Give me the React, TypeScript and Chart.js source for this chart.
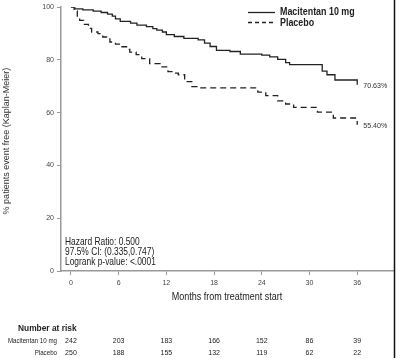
import React, { useEffect, useRef } from 'react';
import Chart from 'chart.js/auto';

const macitentanMonths = [0, 0.5, 1.5, 2.8, 3.8, 4.6, 5.2, 5.6, 6.2, 7.5, 8.3, 9.5, 10.3, 10.8, 11.5, 12.0, 13.0, 14.2, 16.0, 16.8, 17.5, 18.3, 20.0, 21.3, 24.0, 25.0, 26.0, 27.0, 27.5, 31.6, 32.2, 33.2, 36.0];
const macitentanSurvival = [100, 99.4, 99.0, 98.5, 98.0, 97.4, 96.6, 95.6, 94.6, 94.0, 93.2, 92.6, 91.9, 91.3, 90.6, 89.6, 88.9, 88.2, 87.6, 86.4, 85.1, 83.6, 83.2, 82.2, 81.8, 81.2, 80.2, 79.0, 78.2, 75.8, 74.4, 72.4, 70.63];
const placeboMonths = [0, 0.4, 0.8, 1.1, 1.6, 2.2, 2.6, 3.4, 4.0, 4.9, 5.6, 6.2, 7.0, 7.4, 8.2, 8.9, 9.9, 11.2, 12.2, 13.0, 13.5, 14.3, 15.2, 16.2, 23.5, 24.5, 26.0, 27.0, 28.0, 31.0, 33.0, 36.0];
const placeboSurvival = [100, 98.6, 96.6, 95.0, 93.5, 92.0, 90.6, 90.0, 88.7, 86.8, 86.0, 85.0, 84.0, 83.0, 82.0, 80.5, 78.6, 77.4, 75.6, 75.0, 74.4, 71.8, 69.9, 69.4, 67.8, 66.5, 64.5, 63.3, 62.0, 60.2, 58.0, 55.4];
const xTicks = [0, 6, 12, 18, 24, 30, 36];
const seriesNames = ['Macitentan 10 mg', 'Placebo'];
const finalLabels = ['70.63%', '55.40%'];
const statsLines = ['Hazard Ratio: 0.500', '97.5% CI: (0.335,0.747)', 'Logrank p-value: <.0001'];
const riskMacitentan = [242, 203, 183, 166, 152, 86, 39];
const riskPlacebo = [250, 188, 155, 132, 119, 62, 22];

const FONT = '"Liberation Sans", Arial, sans-serif';

function squishText(ctx: any, text: string, x: number, y: number, sx: number) {
  ctx.save();
  ctx.translate(x, y);
  ctx.scale(sx, 1);
  ctx.fillText(text, 0, 0);
  ctx.restore();
}

export default function App() {
  const ref = useRef<HTMLCanvasElement | null>(null);
  useEffect(() => {
    const canvas = ref.current;
    if (!canvas) return;
    const overlay = {
      id: 'overlay',
      afterDraw(chart: any) {
        const ctx = chart.ctx;
        const xs = chart.scales.x;
        const ys = chart.scales.y;
        const area = chart.chartArea;
        ctx.save();
        // legend
        ctx.strokeStyle = '#222';
        ctx.lineWidth = 1.3;
        ctx.beginPath();
        ctx.moveTo(248, 12.5); ctx.lineTo(275, 12.5);
        ctx.stroke();
        ctx.setLineDash([4, 3]);
        ctx.beginPath();
        ctx.moveTo(248, 22.5); ctx.lineTo(275, 22.5);
        ctx.stroke();
        ctx.setLineDash([]);
        ctx.fillStyle = '#222';
        ctx.font = 'bold 10px ' + FONT;
        ctx.textAlign = 'left';
        ctx.textBaseline = 'middle';
        squishText(ctx, seriesNames[0], 280, 12, 0.89);
        squishText(ctx, seriesNames[1], 280, 23, 0.89);
        // final labels
        ctx.font = '7.5px ' + FONT;
        ctx.fillStyle = '#333';
        const lastM = macitentanSurvival[macitentanSurvival.length - 1];
        const lastP = placeboSurvival[placeboSurvival.length - 1];
        squishText(ctx, finalLabels[0], xs.getPixelForValue(36) + 6, ys.getPixelForValue(lastM) + 1, 0.95);
        squishText(ctx, finalLabels[1], xs.getPixelForValue(36) + 6, ys.getPixelForValue(lastP) + 1, 0.95);
        // stats
        ctx.font = '10.5px ' + FONT;
        ctx.fillStyle = '#222';
        statsLines.forEach((s, i) => squishText(ctx, s, 65, 242.5 + i * 9.6, 0.8));
        // x title
        ctx.font = '10px ' + FONT;
        ctx.textAlign = 'center';
        squishText(ctx, 'Months from treatment start', (area.left + area.right) / 2, 297, 0.9);
        // y title
        ctx.save();
        ctx.translate(7, (area.top + area.bottom) / 2 + 2);
        ctx.rotate(-Math.PI / 2);
        ctx.font = '9px ' + FONT;
        ctx.fillStyle = '#333';
        ctx.fillText('% patients event free (Kaplan-Meier)', 0, 0);
        ctx.restore();
        // number at risk
        ctx.textAlign = 'left';
        ctx.font = 'bold 9.5px ' + FONT;
        ctx.fillStyle = '#222';
        squishText(ctx, 'Number at risk', 18, 328, 0.88);
        ctx.font = '6.5px ' + FONT;
        ctx.textAlign = 'right';
        squishText(ctx, seriesNames[0], 57, 341, 0.95);
        squishText(ctx, seriesNames[1], 57, 353, 0.95);
        ctx.font = '7px ' + FONT;
        ctx.textAlign = 'center';
        xTicks.forEach((t, i) => {
          const px = xs.getPixelForValue(t);
          ctx.fillText(String(riskMacitentan[i]), px, 341);
          ctx.fillText(String(riskPlacebo[i]), px, 353);
        });
        // right border
        ctx.strokeStyle = '#111';
        ctx.lineWidth = 1.5;
        ctx.beginPath();
        ctx.moveTo(394.5, 0); ctx.lineTo(394.5, 358);
        ctx.stroke();
        ctx.restore();
      },
    };
    const chart = new Chart(canvas, {
      type: 'line',
      data: {
        datasets: [
          {
            label: seriesNames[0],
            data: macitentanMonths.map((m, i) => ({ x: m, y: macitentanSurvival[i] })),
            borderColor: '#222',
            borderWidth: 1.3,
            pointRadius: 0,
            stepped: true,
            fill: false,
          },
          {
            label: seriesNames[1],
            data: placeboMonths.map((m, i) => ({ x: m, y: placeboSurvival[i] })),
            borderColor: '#222',
            borderWidth: 1.3,
            borderDash: [6, 4],
            pointRadius: 0,
            stepped: true,
            fill: false,
          },
        ],
      },
      options: {
        animation: false,
        responsive: false,
        devicePixelRatio: 1,
        layout: { padding: { left: 0, top: 5, right: 7, bottom: 0 } },
        plugins: { legend: { display: false }, tooltip: { enabled: false } },
        scales: {
          x: {
            type: 'linear',
            min: -1.25,
            max: 40.5,
            afterBuildTicks: (scale: any) => { scale.ticks = xTicks.map((v) => ({ value: v })); },
            afterFit: (scale: any) => { scale.height = 87; },
            ticks: { color: '#444', font: { family: FONT, size: 7 }, padding: 4, maxRotation: 0, autoSkip: false },
            grid: { display: true, drawOnChartArea: false, drawTicks: true, tickLength: 4, color: '#999', lineWidth: 1 },
            border: { display: true, color: '#999', width: 1.5 },
          },
          y: {
            min: 0,
            max: 100,
            ticks: { stepSize: 20, color: '#444', font: { family: FONT, size: 7 }, padding: 3 },
            afterFit: (scale: any) => { scale.width = 61; },
            grid: { display: true, drawOnChartArea: false, drawTicks: true, tickLength: 4, color: '#999', lineWidth: 1 },
            border: { display: true, color: '#999', width: 1.5 },
          },
        },
      },
      plugins: [overlay],
    });
    return () => chart.destroy();
  }, []);
  return (
    <div style={{ position: 'absolute', left: 0, top: 0, width: 400, height: 358, background: '#fff' }}>
      <canvas ref={ref} width={400} height={358} style={{ display: 'block', width: 400, height: 358 }} />
    </div>
  );
}
